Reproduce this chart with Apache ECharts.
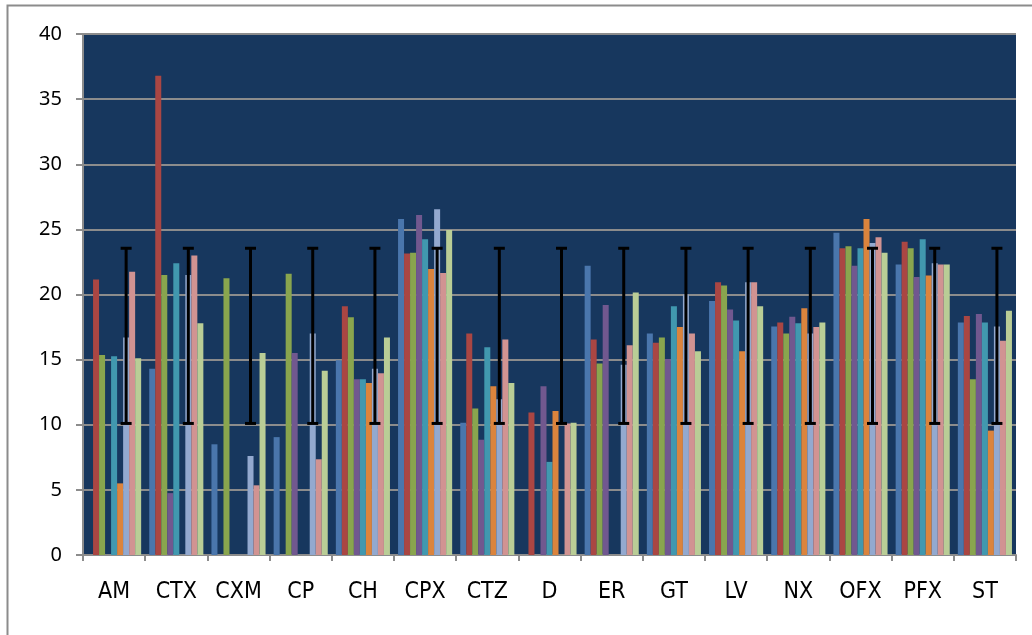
<!DOCTYPE html>
<html>
<head>
<meta charset="utf-8">
<script src="https://cdn.jsdelivr.net/npm/echarts@6/dist/echarts.min.js"></script>
<style>
html,body{margin:0;padding:0;background:#fff;}
#chart{width:1032px;height:635px;}
</style>
</head>
<body>
<div id="chart"></div>
<script>
const categories = ['AM','CTX','CXM','CP','CH','CPX','CTZ','D','ER','GT','LV','NX','OFX','PFX','ST'];
const yTicks = [0,5,10,15,20,25,30,35,40];

const sBlue       = [null, 14.3, 8.5, 9.05, 14.95, 25.8, 10.15, null, 22.2, 17.0, 19.5, 17.55, 24.75, 22.3, 17.85];
const sRed        = [21.15, 36.8, null, null, 19.1, 23.15, 17.0, 10.95, 16.55, 16.3, 20.95, 17.85, 23.55, 24.05, 18.35];
const sGreen      = [15.35, 21.5, 21.25, 21.6, 18.25, 23.2, 11.25, null, 14.7, 16.7, 20.7, 17.0, 23.7, 23.55, 13.5];
const sPurple     = [null, 4.75, null, 15.5, 13.5, 26.1, 8.85, 12.95, 19.2, 15.05, 18.85, 18.3, 22.2, 21.35, 18.5];
const sTeal       = [15.25, 22.4, null, null, 13.5, 24.25, 15.95, 7.15, null, 19.1, 18.0, 17.8, 23.55, 24.25, 17.85];
const sOrange     = [5.5, null, null, null, 13.2, 21.95, 12.95, 11.05, null, 17.5, 15.65, 18.95, 25.8, 21.45, 9.55];
const sLightBlue  = [16.7, 21.5, 7.6, 17.0, 14.3, 26.55, 11.95, null, 14.6, 20.0, 20.95, 17.0, 23.95, 22.4, 17.55];
const sPink       = [21.75, 23.0, 5.35, 7.35, 13.95, 21.65, 16.55, 10.1, 16.1, 17.0, 20.95, 17.5, 24.4, 22.3, 16.45];
const sLightGreen = [15.1, 17.8, 15.5, 14.15, 16.7, 24.95, 13.2, 10.15, 20.15, 15.65, 19.1, 17.85, 23.2, 22.3, 18.75];

const errLow  = [10.1,10.1,10.1,10.1,10.1,10.1,10.1,10.1,10.1,10.1,10.1,10.1,10.1,10.1,10.1];
const errHigh = [23.55,23.55,23.55,23.55,23.55,23.55,23.55,23.55,23.55,23.55,23.55,23.55,23.55,23.55,23.55];

const seriesData = [sBlue, sRed, sGreen, sPurple, sTeal, sOrange, sLightBlue, sPink, sLightGreen];
const colors = ['#4A76AC','#AA4643','#89A54E','#71588F','#4198AF','#DB843D','#93A9CF','#D19392','#B9CD96'];
const CAT_GAP = 0.13;
const ERR_SERIES_INDEX = 6;

const chart = echarts.init(document.getElementById('chart'), null, {renderer:'canvas'});

const barSeries = seriesData.map((d, i) => ({
  type: 'bar',
  data: d,
  barGap: '0%',
  barCategoryGap: (CAT_GAP*100) + '%',
  itemStyle: { color: colors[i] },
  z: 2
}));

const errSeries = {
  type: 'custom',
  z: 5,
  data: categories.map((c, i) => [i, errLow[i], errHigh[i]]),
  encode: { x: 0, y: [1, 2] },
  renderItem: function (params, api) {
    const xi = api.value(0);
    const lo = api.coord([xi, api.value(1)]);
    const hi = api.coord([xi, api.value(2)]);
    const band = api.size([1, 0])[0];
    const bw = band * (1 - CAT_GAP) / seriesData.length;
    const off = (ERR_SERIES_INDEX - (seriesData.length - 1) / 2) * bw;
    const cx = lo[0] + off;
    const cap = 5.5;
    const st = { stroke: '#000', lineWidth: 3 };
    return {
      type: 'group',
      children: [
        { type: 'line', shape: { x1: cx, y1: lo[1], x2: cx, y2: hi[1] }, style: st },
        { type: 'line', shape: { x1: cx - cap, y1: lo[1], x2: cx + cap, y2: lo[1] }, style: st },
        { type: 'line', shape: { x1: cx - cap, y1: hi[1], x2: cx + cap, y2: hi[1] }, style: st }
      ]
    };
  }
};

chart.setOption({
  animation: false,
  backgroundColor: '#ffffff',
  graphic: [
    { type: 'polyline', shape: { points: [[7.5, 640], [7.5, 5.5], [1040, 5.5]] },
      style: { stroke: '#8c8c8c', lineWidth: 2, fill: null }, z: 0 }
  ],
  grid: {
    left: 83, right: 16, top: 34, bottom: 80,
    show: true, backgroundColor: '#17375E', borderWidth: 0
  },
  xAxis: {
    type: 'category',
    data: categories,
    axisLine: { show: true, lineStyle: { color: '#8c8c8c', width: 2 } },
    axisTick: { show: true, length: 6, lineStyle: { color: '#8c8c8c', width: 2 } },
    axisLabel: { color: '#000', fontSize: 23, fontFamily: '"DejaVu Sans Condensed", "Liberation Sans Narrow", sans-serif', margin: 26 },
    splitLine: { show: false }
  },
  yAxis: {
    type: 'value',
    min: yTicks[0], max: yTicks[yTicks.length - 1], interval: 5,
    axisLine: { show: true, lineStyle: { color: '#8c8c8c', width: 2 } },
    axisTick: { show: true, length: 7, lineStyle: { color: '#8c8c8c', width: 2 } },
    axisLabel: { color: '#000', fontSize: 20, fontFamily: 'Noto Sans, sans-serif', margin: 21 },
    splitLine: { show: true, lineStyle: { color: '#8c8c8c', width: 2 } }
  },
  series: barSeries.concat([errSeries])
});
</script>
</body>
</html>
